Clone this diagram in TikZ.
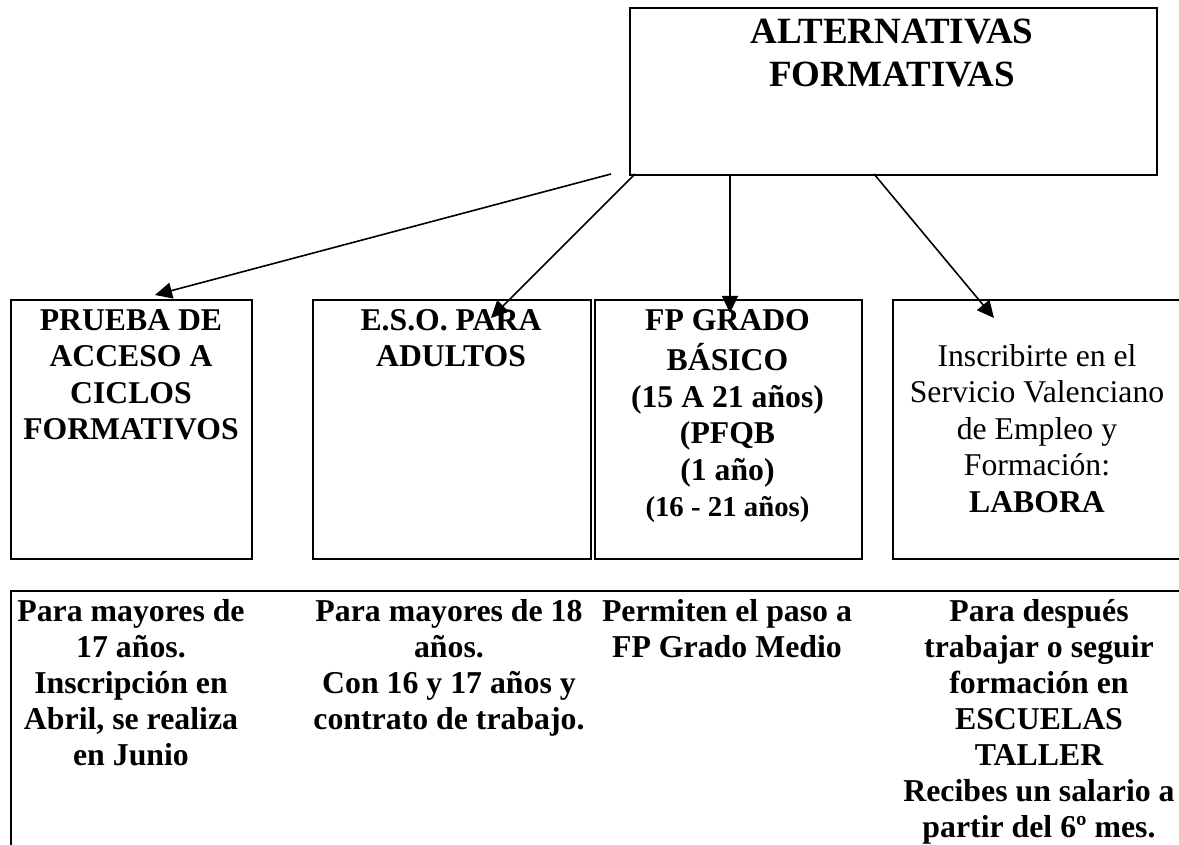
\documentclass[tikz,border=0pt]{standalone}
\usepackage{fontspec}
\setmainfont{Liberation Serif}
\usetikzlibrary{arrows.meta}

\tikzset{
  caja/.style={draw, line width=0.9pt, inner sep=0pt, anchor=north west},
  titulotxt/.style={align=center, inner sep=0pt, anchor=north, font=\fontsize{18.5}{21.5}\selectfont\bfseries},
  cajatxt/.style={align=center, inner sep=0pt, anchor=north, font=\fontsize{15.85}{18.25}\selectfont\bfseries},
  notatxt/.style={align=center, inner sep=0pt, anchor=north, font=\fontsize{15.9}{18}\selectfont\bfseries},
  flecha/.style={-{Triangle[length=8.5pt,width=8pt]}, line width=0.8pt},
}

\begin{document}
\begin{tikzpicture}[x=0.5pt,y=-0.5pt]
\useasboundingbox (0,0) rectangle (1179,845);
\clip (0,0) rectangle (1179,845);

\node[caja, minimum width=263.5pt, minimum height=83.5pt]  (titulo) at (629,7)   {};
\node[caja, minimum width=120.5pt, minimum height=129.5pt] (prueba) at (10,299)  {};
\node[caja, minimum width=139pt,   minimum height=129.5pt] (eso)    at (312,299) {};
\node[caja, minimum width=133.5pt, minimum height=129.5pt] (fpb)    at (594,299) {};
\node[caja, minimum width=150pt,   minimum height=129.5pt] (labora) at (892,299) {};
\node[caja, minimum width=595pt,   minimum height=135pt]   (notas)  at (10,590)  {};

\node[titulotxt] (ttitulo) at (892,12.9) {\strut ALTERNATIVAS\\FORMATIVAS};
\node[cajatxt] (tprueba) at (131,304.5)  {\strut PRUEBA DE\\ACCESO A\\CICLOS\\FORMATIVOS};
\node[cajatxt] (teso)    at (451,304.5)  {\strut E.S.O. PARA\\ADULTOS};
\node[cajatxt] (tfpb)    at (727.5,304.5) {\strut FP GRADO\\BÁSICO\\(15 A 21 años)\\(PFQB\\(1 año)\\{\fontsize{14.4}{18.25}\selectfont (16 - 21 años)}};
\node[cajatxt, font=\fontsize{15.85}{18.25}\selectfont] (tlabora) at (1037,340.5)
  {\strut Inscribirte en el\\Servicio Valenciano\\de Empleo y\\Formación:\\\textbf{LABORA}};

\node[notatxt] (nprueba) at (131,595.8) {\strut Para mayores de\\17 años.\\Inscripción en\\Abril, se realiza\\en Junio};
\node[notatxt] (neso)    at (449,595.8) {\strut Para mayores de 18\\años.\\Con 16 y 17 años y\\contrato de trabajo.};
\node[notatxt] (nfpb)    at (727,595.8) {\strut Permiten el paso a\\FP Grado Medio};
\node[notatxt] (nlabora) at (1039,595.8) {\strut Para después\\trabajar o seguir\\formación en\\ESCUELAS\\TALLER\\Recibes un salario a\\partir del 6º mes.};

\coordinate (s1) at (611,174); \coordinate (e1) at (155,295);
\coordinate (s2) at (635,174); \coordinate (e2) at (491,318);
\coordinate (s3) at (730,174); \coordinate (e3) at (730,313);
\coordinate (s4) at (874,174); \coordinate (e4) at (994,318);

\draw[flecha] (s1) -- (e1);
\draw[flecha] (s2) -- (e2);
\draw[flecha] (s3) -- (e3);
\draw[flecha] (s4) -- (e4);
\end{tikzpicture}
\end{document}
